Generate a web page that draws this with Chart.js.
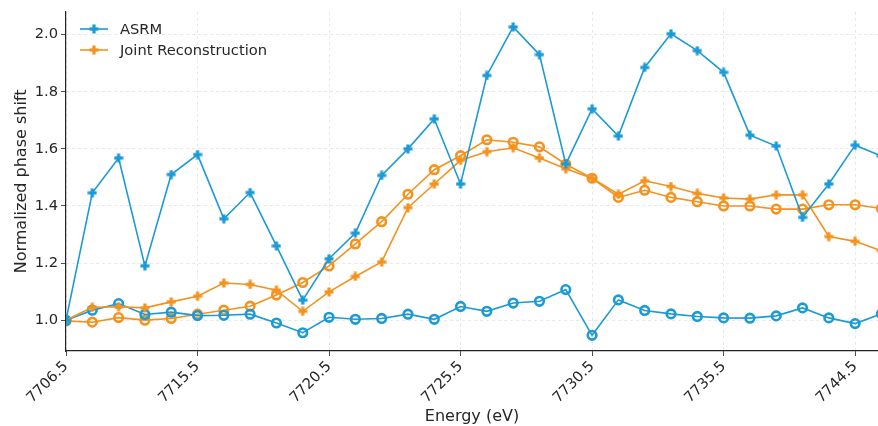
<!DOCTYPE html>
<html lang="en">
<head>
  <meta charset="UTF-8">
  <title>Normalized phase shift vs energy</title>
  <script src="https://cdn.jsdelivr.net/npm/chart.js"></script>
  <style>
    html, body { margin: 0; padding: 0; background: #fff; }
    .wrap { width: 878px; height: 426px; position: relative; }
  </style>
</head>
<body>
<div class="wrap">
  <canvas id="phaseChart" width="878" height="426"></canvas>
</div>
<script>
  // tick labels (energy, eV) and the point index they sit on
  const energyTicks = [7706.5, 7715.5, 7720.5, 7725.5, 7730.5, 7735.5, 7744.5];
  const tickIndex = [0, 5, 10, 15, 20, 25, 30];
  const yTicks = [1.0, 1.2, 1.4, 1.6, 1.8, 2.0];

  // values, one per energy step
  const asrmPlus = [1.00, 1.446, 1.568, 1.19, 1.51, 1.58, 1.355, 1.447, 1.26, 1.07, 1.215, 1.305, 1.507, 1.60, 1.705, 1.477,
    1.857, 2.027, 1.93, 1.547, 1.74, 1.645, 1.885, 2.003, 1.944, 1.868, 1.648, 1.61, 1.36, 1.477, 1.613, 1.575];
  const jointPlus = [1.00, 1.045, 1.047, 1.043, 1.064, 1.084, 1.13, 1.125, 1.105, 1.031, 1.099, 1.153, 1.204, 1.394, 1.477, 1.56,
    1.59, 1.604, 1.568, 1.53, 1.497, 1.441, 1.488, 1.468, 1.444, 1.428, 1.424, 1.439, 1.439, 1.293, 1.276, 1.243];
  const asrmCircle = [1.00, 1.035, 1.058, 1.02, 1.028, 1.016, 1.017, 1.021, 0.99, 0.956, 1.01, 1.003, 1.006, 1.021, 1.003, 1.048,
    1.031, 1.06, 1.066, 1.107, 0.947, 1.071, 1.034, 1.022, 1.013, 1.008, 1.007, 1.015, 1.043, 1.008, 0.988, 1.022];
  const jointCircle = [0.997, 0.993, 1.009, 1.0, 1.006, 1.021, 1.035, 1.049, 1.088, 1.132, 1.19, 1.267, 1.345, 1.441, 1.527, 1.576,
    1.632, 1.623, 1.607, 1.546, 1.497, 1.43, 1.455, 1.43, 1.415, 1.40, 1.40, 1.389, 1.389, 1.404, 1.404, 1.391];

  const BLUE = '#1b9ad6';
  const ORANGE = '#f5921e';
  const FONT = "'DejaVu Sans', sans-serif";
  const SMALL = 14.7;

  // filled plus marker (like matplotlib 'P')
  function plusMarker(color) {
    const c = document.createElement('canvas');
    c.width = 10; c.height = 10;
    const g = c.getContext('2d');
    g.fillStyle = color;
    g.fillRect(3.4, 0.5, 3.2, 9);
    g.fillRect(0.5, 3.4, 9, 3.2);
    return c;
  }
  const bluePlus = plusMarker(BLUE);
  const orangePlus = plusMarker(ORANGE);

  const toXY = arr => arr.map((v, i) => ({ x: i, y: v }));

  function lineSet(label, data, color, marker) {
    const base = {
      label: label,
      data: toXY(data),
      borderColor: color,
      borderWidth: 1.6,
      tension: 0,
      fill: false
    };
    if (marker === 'plus') {
      base.pointStyle = color === BLUE ? bluePlus : orangePlus;
      base.pointRadius = 5;
    } else {
      base.pointStyle = 'circle';
      base.pointRadius = 4.3;
      base.pointBorderWidth = 2.6;
      base.pointBorderColor = color;
      base.pointBackgroundColor = 'rgba(0,0,0,0)';
    }
    return base;
  }

  // legend drawn inside the plot, top-left, no frame
  const innerLegend = {
    id: 'innerLegend',
    afterDraw(chart) {
      const ctx = chart.ctx;
      const items = [['ASRM', BLUE, bluePlus], ['Joint Reconstruction', ORANGE, orangePlus]];
      ctx.save();
      items.forEach((it, k) => {
        const y = 29 + k * 21;
        ctx.strokeStyle = it[1];
        ctx.lineWidth = 1.6;
        ctx.beginPath();
        ctx.moveTo(80, y);
        ctx.lineTo(108, y);
        ctx.stroke();
        ctx.drawImage(it[2], 89, y - 5);
        ctx.fillStyle = '#262626';
        ctx.font = SMALL + 'px ' + FONT;
        ctx.textBaseline = 'middle';
        ctx.fillText(it[0], 120, y + 1);
      });
      ctx.restore();
    }
  };

  new Chart(document.getElementById('phaseChart'), {
    type: 'line',
    data: {
      datasets: [
        lineSet('ASRM', asrmPlus, BLUE, 'plus'),
        lineSet('Joint Reconstruction', jointPlus, ORANGE, 'plus'),
        lineSet('ASRM (ref)', asrmCircle, BLUE, 'circle'),
        lineSet('Joint (ref)', jointCircle, ORANGE, 'circle')
      ]
    },
    options: {
      responsive: false,
      animation: false,
      layout: { autoPadding: false, padding: { top: 10, right: 0, left: 0, bottom: 0 } },
      scales: {
        x: {
          type: 'linear',
          min: 0,
          max: 30.87,
          afterBuildTicks: scale => { scale.ticks = tickIndex.map(v => ({ value: v })); },
          afterFit: scale => {
            scale.height = 75;
            scale.paddingRight = 0;
            scale.paddingLeft = 0;
          },
          ticks: {
            autoSkip: false,
            maxRotation: 45,
            minRotation: 45,
            padding: 2,
            color: '#262626',
            font: { family: FONT, size: SMALL },
            callback: value => {
              const k = tickIndex.indexOf(value);
              return k >= 0 ? energyTicks[k].toFixed(1) : '';
            }
          },
          grid: {
            color: '#e2e2e2',
            lineWidth: 0.8,
            tickColor: '#222',
            tickLength: 5,
            tickBorderDash: []
          },
          border: { display: true, color: '#222', width: 1.2, dash: [3, 3] },
          title: {
            display: true,
            text: 'Energy (eV)',
            color: '#262626',
            font: { family: FONT, size: 16 },
            padding: { top: 0, bottom: 0 }
          }
        },
        y: {
          min: 0.892,
          max: 2.08,
          afterBuildTicks: scale => { scale.ticks = yTicks.map(v => ({ value: v })); },
          afterFit: scale => { scale.width = 66; },
          ticks: {
            padding: 3,
            color: '#262626',
            font: { family: FONT, size: SMALL },
            callback: value => value.toFixed(1)
          },
          grid: {
            color: '#e2e2e2',
            lineWidth: 0.8,
            tickColor: '#222',
            tickLength: 5,
            tickBorderDash: []
          },
          border: { display: true, color: '#222', width: 1.2, dash: [3, 3] },
          title: {
            display: true,
            text: 'Normalized phase shift',
            color: '#262626',
            font: { family: FONT, size: 16 },
            padding: { top: 12, bottom: 0 }
          }
        }
      },
      plugins: {
        legend: { display: false },
        tooltip: { enabled: false }
      }
    },
    plugins: [innerLegend]
  });
</script>
</body>
</html>
